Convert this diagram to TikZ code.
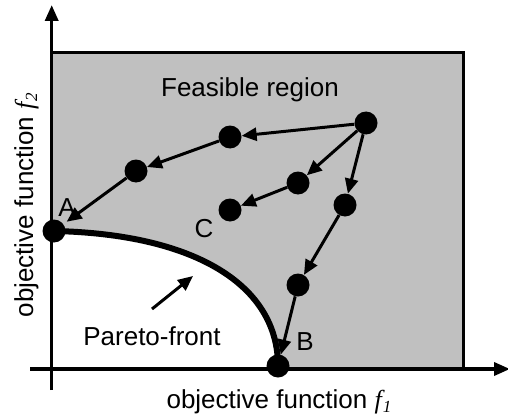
\documentclass[tikz,border=0pt]{standalone}
\usepackage{fontspec}
\setmainfont{Liberation Sans}
\newfontfamily\tnrfam{Liberation Serif}
\usetikzlibrary{arrows.meta}
\definecolor{feas}{RGB}{192,192,192}
\newcommand{\fvar}[1]{{\tnrfam\itshape f\kern0.04em\raisebox{-0.35ex}{\fontsize{17}{17}\selectfont #1}}}
\tikzset{
  dot/.style={circle, fill=black, inner sep=0pt, minimum size=23pt},
  arr/.style={line width=3pt, -{Triangle[length=15pt,width=13pt]}},
  axis/.style={line width=3.5pt, -{Triangle[length=16pt,width=13pt]}},
  lbl/.style={font=\fontsize{26}{30}\selectfont, inner sep=0pt},
}
\begin{document}
\begin{tikzpicture}[x=1pt,y=-1pt]
\useasboundingbox (0,0) rectangle (508,417);
% feasible region
\fill[feas] (52,53) rectangle (463,369);
\fill[white] (52,233) -- (54,233) .. controls (195,234) and (278,285) .. (278,369) -- (52,369) -- cycle;
\draw[line width=3pt] (52,53) -- (463,53) -- (463,369);
% axes
\coordinate (ybot) at (51.7,390);
\coordinate (ytop) at (51.7,5);
\coordinate (xl) at (30,369);
\coordinate (xr) at (510,369);
\draw[axis] (ybot) -- (ytop);
\draw[axis] (xl) -- (xr);
% points
\node[dot] (p1) at (366,123) {};
\node[dot] (p2) at (230,137) {};
\node[dot] (p3) at (136,171) {};
\node[dot] (a) at (54,231) {};
\node[dot] (p4) at (298,183) {};
\node[dot] (c) at (230,210) {};
\node[dot] (p5) at (345,205) {};
\node[dot] (p6) at (298,285) {};
\node[dot] (b) at (278,366) {};
% pareto front
\draw[line width=6pt] (a.center) .. controls (195,234) and (278,285) .. (b.center);
% arrows
\draw[arr] (p1) -- (p2);
\draw[arr] (p2) -- (p3);
\draw[arr, shorten >=4pt] (p3) -- (a);
\draw[arr] (p1) -- (p4);
\draw[arr] (p4) -- (c);
\draw[arr] (p1) -- (p5);
\draw[arr] (p5) -- (p6);
\draw[arr] (p6) -- (b);
\coordinate (pf1) at (152,309);
\coordinate (pf2) at (193,276);
\draw[arr] (pf1) -- (pf2);
% labels
\node[lbl] (la) at (67,208) {A};
\node[lbl] (lb) at (305,342) {B};
\node[lbl] (lc) at (204,229) {C};
\node[lbl, anchor=base] (feas) at (250,96) {Feasible region};
\node[lbl, anchor=base] (pf) at (152,345) {Pareto-front};
\node[lbl, anchor=base] (xlab) at (279,408) {objective function \fvar{1}};
\node[lbl, anchor=base, rotate=90] (ylab) at (33,205) {objective function \fvar{2}};
\end{tikzpicture}
\end{document}
